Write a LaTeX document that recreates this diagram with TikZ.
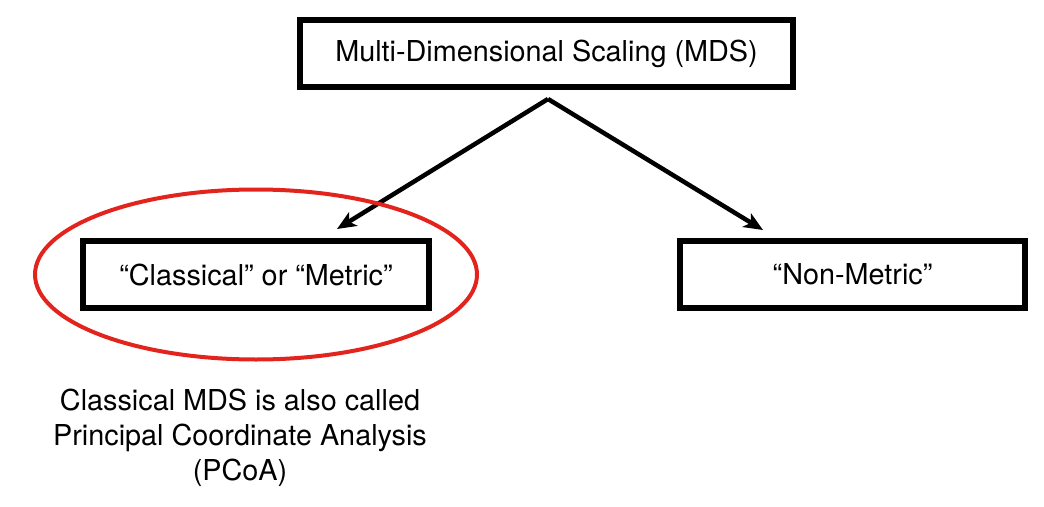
\documentclass[tikz,border=0pt]{standalone}
\usepackage{fontspec}
\setmainfont{TeX Gyre Heros}
\usetikzlibrary{arrows.meta}
\definecolor{ringred}{RGB}{226,36,28}

\tikzset{
	mdsbox/.style={draw, line width=5.5pt, minimum height=67pt, inner sep=0pt, font=\fontsize{28.8}{35}\selectfont},
	mdsarrow/.style={line width=4.5pt, -{Stealth[length=19pt, width=16pt, inset=5pt]}}
}

\begin{document}
\begin{tikzpicture}[x=1pt, y=-1pt]
	\useasboundingbox (0, 0) rectangle (1044, 506);
	
	%Kaesten
	\node[mdsbox, minimum width=493pt] (mds) at (546.5, 53.5) {Multi-Dimensional Scaling (MDS)};
	\node[mdsbox, minimum width=346pt] (metric) at (256, 274.5) {``Classical'' or ``Metric''};
	\node[mdsbox, minimum width=345pt] (nonmetric) at (852.5, 274.5) {``Non-Metric''};
	
	%Pfeile
	\coordinate (apex) at (548, 99);
	\coordinate (metrictip) at (337, 229);
	\coordinate (nonmetrictip) at (763, 230);
	\draw[mdsarrow] (apex) -- (metrictip);
	\draw[mdsarrow] (apex) -- (nonmetrictip);
	
	%Ellipse
	\draw[ringred, line width=4pt] (metric.center) ellipse [x radius=221, y radius=85];
	
	\node[align=center, font=\fontsize{28.8}{35}\selectfont] (pcoa) at (240, 438) {Classical MDS is also called\\Principal Coordinate Analysis\\(PCoA)};
	
\end{tikzpicture}
\end{document}
